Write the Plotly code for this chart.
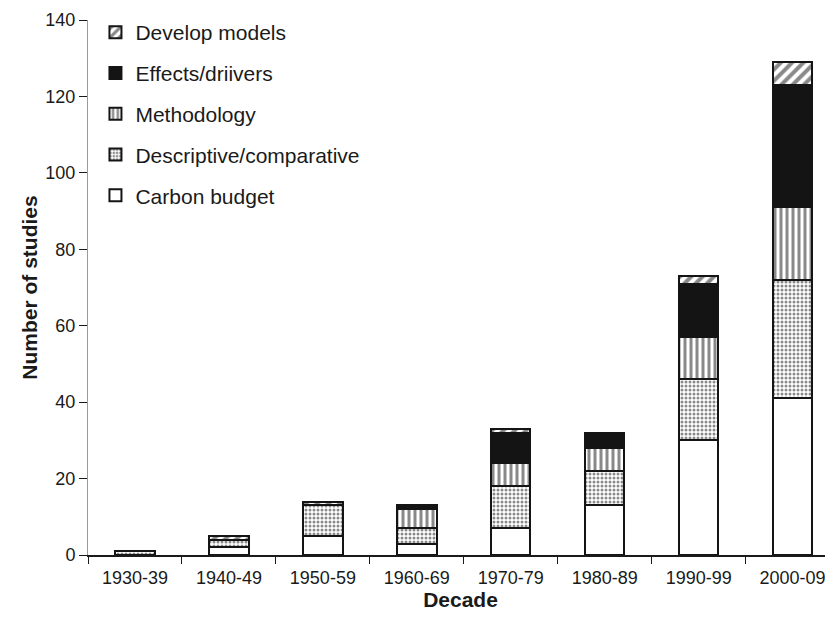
import plotly.graph_objects as go

decades = ["1930-39", "1940-49", "1950-59", "1960-69", "1970-79", "1980-89", "1990-99", "2000-09"]
carbon_budget = [0, 2, 5, 3, 7, 13, 30, 41]
descriptive = [1, 2, 8, 4, 11, 9, 16, 31]
methodology = [0, 0, 0, 5, 6, 6, 11, 19]
effects = [0, 0, 0, 1, 8, 4, 14, 32]
develop_models = [0, 1, 1, 0, 1, 0, 2, 6]

series = [
    ("Carbon budget", carbon_budget, "", "white"),
    ("Descriptive/comparative", descriptive, ".", "white"),
    ("Methodology", methodology, "|", "white"),
    ("Effects/driivers", effects, "", "#141414"),
    ("Develop models", develop_models, "/", "white"),
]

fig = go.Figure()
n = len(series)
for i, (name, vals, shape, color) in enumerate(series):
    pattern = dict(shape=shape, fgcolor="#141414", bgcolor="white", fillmode="overlay")
    if shape == ".":
        pattern.update(size=4, solidity=0.45)
    elif shape == "|":
        pattern.update(size=6, solidity=0.5)
    elif shape == "/":
        pattern.update(size=8, solidity=0.5)
    fig.add_trace(go.Bar(
        x=decades, y=vals, name=name, legendgroup=f"g{i}", legendrank=n - i,
        marker=dict(color=color, pattern=pattern if shape else None,
                    line=dict(color="#141414", width=2)),
        width=0.42,
    ))

font = "Liberation Sans, Arial, Helvetica, sans-serif"
fig.update_layout(
    barmode="stack",
    width=825, height=613,
    margin=dict(l=80, r=0, t=12, b=66),
    plot_bgcolor="white", paper_bgcolor="white",
    font=dict(family=font, size=18, color="#1a1a1a"),
    showlegend=True,
    legend=dict(x=0.01, y=1.015, xanchor="left", yanchor="top",
                traceorder="grouped", tracegroupgap=10.5,
                font=dict(size=21), bgcolor="rgba(0,0,0,0)"),
)
fig.update_xaxes(
    type="category",
    range=[-0.5, 7.43],
    showline=True, linecolor="#1a1a1a", linewidth=1.5,
    ticks="outside", tickson="boundaries", ticklen=7, tickcolor="#1a1a1a",
    tickfont=dict(size=18), ticklabelstandoff=6,
    title=dict(text="<b>Decade</b>", font=dict(size=21), standoff=0),
    showgrid=False, zeroline=False,
)
fig.update_yaxes(
    range=[0, 140], dtick=20,
    showline=True, linecolor="#999999", linewidth=1,
    ticks="outside", ticklen=8, tickcolor="#1a1a1a",
    tickfont=dict(size=18),
    title=dict(text="<b>Number of studies</b>", font=dict(size=21), standoff=2),
    showgrid=False, zeroline=False,
)
fig.write_html("out.html")
